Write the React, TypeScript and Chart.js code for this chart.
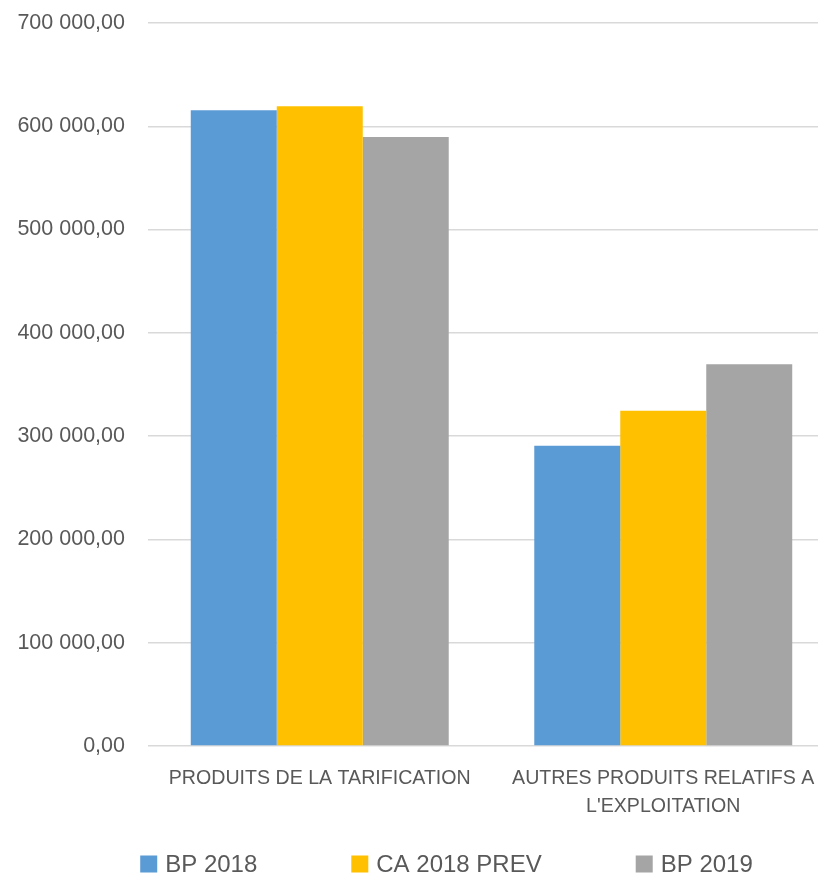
import React, { useEffect, useRef } from "react";
import { Chart, registerables } from "chart.js";

Chart.register(...registerables);

const categories: (string | string[])[] = [
  "PRODUITS DE LA TARIFICATION",
  ["AUTRES PRODUITS RELATIFS A", "L'EXPLOITATION"],
];
const seriesNames = ["BP 2018", "CA 2018 PREV", "BP 2019"];
const bp2018 = [615400, 290700];
const ca2018Prev = [619300, 324600];
const bp2019 = [589600, 369500];
const colors = ["#5B9BD5", "#FFC000", "#A5A5A5"];
const yMin = 0;
const yMax = 700000;
const yStep = 100000;

const FONT = "'Liberation Sans', Arial, sans-serif";
const TEXT = "#595959";

function formatFr(v: number): string {
  const fixed = Math.abs(v).toFixed(2);
  const [intPart, dec] = fixed.split(".");
  const grouped = intPart.replace(/\B(?=(\d{3})+(?!\d))/g, " ");
  return (v < 0 ? "-" : "") + grouped + "," + dec;
}

// Legend drawn on the chart canvas from the chart's own datasets
const bottomLegend = {
  id: "bottomLegend",
  afterDraw(chart: any) {
    const ctx = chart.ctx as CanvasRenderingContext2D;
    const box = 17;
    const textGap = 8;
    const itemGap = 94;
    const centerX = 446.5;
    const centerY = chart.height - 13;
    ctx.save();
    ctx.font = `24px ${FONT}`;
    ctx.textBaseline = "middle";
    ctx.textAlign = "left";
    const items = chart.data.datasets.map((d: any) => ({
      label: String(d.label),
      color: d.backgroundColor as string,
      w: ctx.measureText(String(d.label)).width,
    }));
    const total =
      items.reduce((s: number, it: any) => s + box + textGap + it.w, 0) +
      itemGap * (items.length - 1);
    let x = centerX - total / 2;
    for (const it of items) {
      ctx.fillStyle = it.color;
      ctx.fillRect(x, centerY - box / 2, box, box);
      ctx.fillStyle = TEXT;
      ctx.fillText(it.label, x + box + textGap, centerY + 1);
      x += box + textGap + it.w + itemGap;
    }
    ctx.restore();
  },
};

export default function App() {
  const ref = useRef<HTMLCanvasElement | null>(null);

  useEffect(() => {
    if (!ref.current) return;
    const values = [bp2018, ca2018Prev, bp2019];
    const chart = new Chart(ref.current, {
      type: "bar",
      data: {
        labels: categories,
        datasets: seriesNames.map((name, i) => ({
          label: name,
          data: values[i],
          backgroundColor: colors[i],
          borderWidth: 0,
          categoryPercentage: 0.751,
          barPercentage: 1,
        })),
      },
      options: {
        responsive: false,
        animation: false,
        layout: { padding: { top: 23, left: 0, right: 0, bottom: 45 } },
        plugins: {
          tooltip: { enabled: false },
          legend: { display: false },
        },
        scales: {
          x: {
            grid: { display: false },
            border: { display: false },
            ticks: {
              color: TEXT,
              font: { family: FONT, size: 19.6, lineHeight: 1.43 },
              padding: 11,
              maxRotation: 0,
              autoSkip: false,
            },
          },
          y: {
            min: yMin,
            max: yMax,
            grid: { color: "#D9D9D9", lineWidth: 1.5, drawTicks: false },
            border: { display: false },
            ticks: {
              stepSize: yStep,
              color: TEXT,
              padding: 23,
              font: { family: FONT, size: 21.5 },
              callback: (v: any) => formatFr(Number(v)),
            },
            afterFit: (s: any) => {
              s.width = 148;
              s.paddingTop = 0;
              s.paddingBottom = 0;
            },
          },
        },
      },
      plugins: [bottomLegend],
    });
    return () => chart.destroy();
  }, []);

  return (
    <div
      style={{
        position: "fixed",
        left: 0,
        top: 0,
        width: 818,
        height: 877,
        overflow: "hidden",
        background: "#fff",
      }}
    >
      <canvas ref={ref} width={835} height={877} style={{ display: "block" }} />
    </div>
  );
}
